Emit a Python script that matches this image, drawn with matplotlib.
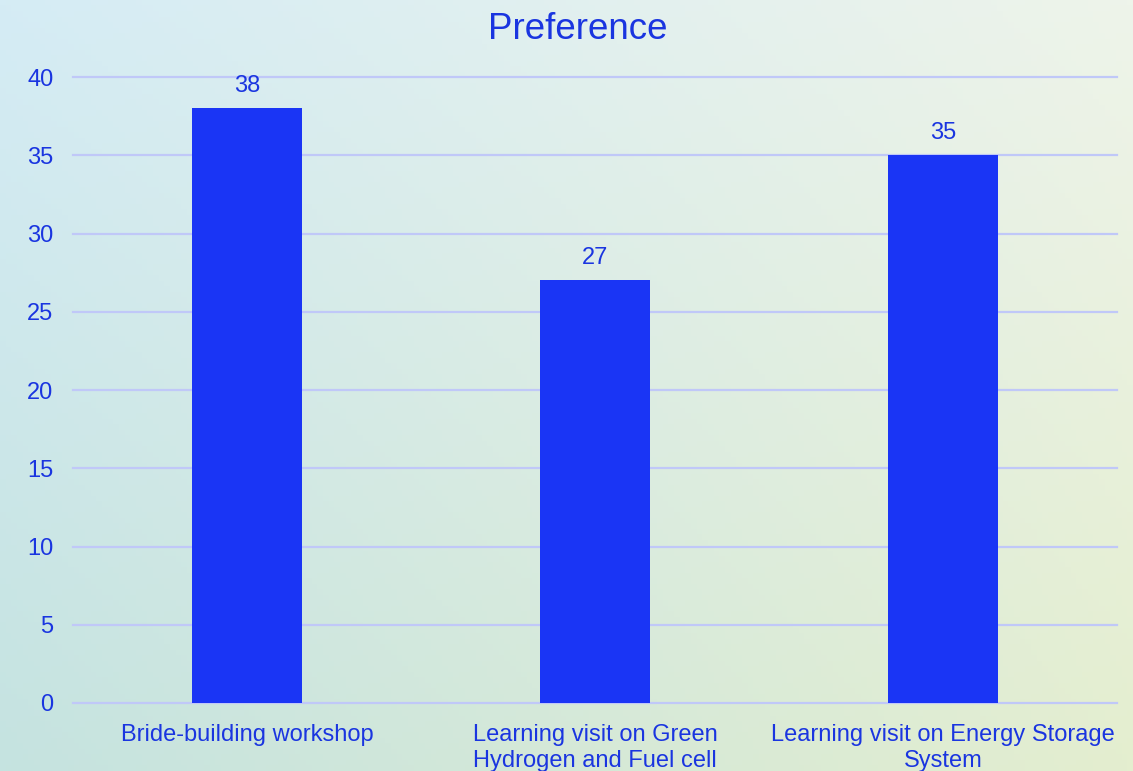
import numpy as np
import matplotlib
matplotlib.use("Agg")
import matplotlib.pyplot as plt

categories = ["Bride-building workshop",
              "Learning visit on Green\nHydrogen and Fuel cell",
              "Learning visit on Energy Storage\nSystem"]
values = [38, 27, 35]
yticks = [0, 5, 10, 15, 20, 25, 30, 35, 40]

plt.rcParams['font.family'] = ['Liberation Sans', 'DejaVu Sans']
txt = '#1a35e0'
barc = '#1a35f5'

fig = plt.figure(figsize=(11.33, 7.71), dpi=100)

# background gradient
bg = fig.add_axes([0, 0, 1, 1])
tl = np.array([213, 236, 245]) / 255
tr = np.array([238, 244, 234]) / 255
bl = np.array([197, 227, 224]) / 255
br = np.array([228, 238, 207]) / 255
u = np.linspace(0, 1, 200)[None, :, None]
v = np.linspace(0, 1, 140)[:, None, None]
grad = (1 - v) * ((1 - u) * tl + u * tr) + v * ((1 - u) * bl + u * br)
bg.imshow(grad, aspect='auto', extent=[0, 1, 0, 1], origin='upper')
bg.axis('off')

ax = fig.add_axes([0.0644, 0.0882, 0.9215, 0.8119])
ax.set_facecolor('none')
x = np.arange(len(categories))
bars = ax.bar(x, values, width=0.316, color=barc, zorder=3)
for xi, val in zip(x, values):
    ax.annotate(str(val), (xi, val), xytext=(0, 8), textcoords='offset points',
                ha='center', va='bottom', fontsize=17, color=txt)

ax.set_xlim(-0.5, 2.5)
ax.set_ylim(0, 40)
ax.set_yticks(yticks)
ax.set_xticks(x)
ax.set_xticklabels(categories, linespacing=1.25)
ax.tick_params(axis='y', length=0, pad=14, labelsize=17, labelcolor=txt)
ax.tick_params(axis='x', length=0, pad=15, labelsize=17, labelcolor=txt)
ax.grid(axis='y', color='#c0c8f8', linewidth=1.6, zorder=0)
for gl in ax.get_ygridlines():
    gl.set_clip_on(False)
for s in ax.spines.values():
    s.set_visible(False)

fig.text(0.51, 0.962, "Preference", ha='center', va='center', fontsize=26.5, color=txt)

fig.savefig('out.png', dpi=100)
